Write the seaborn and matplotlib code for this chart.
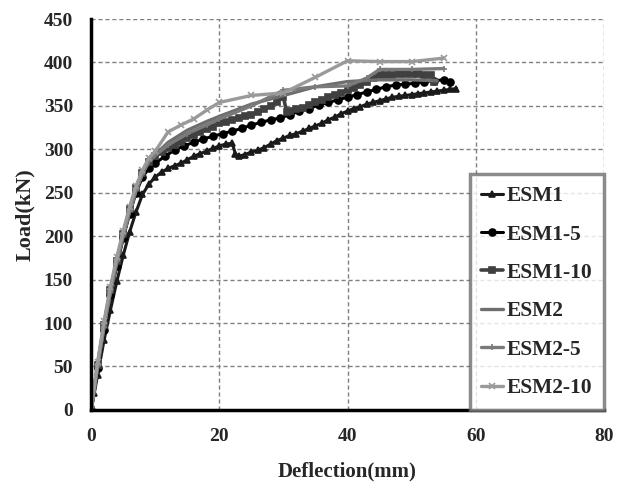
import numpy as np
import pandas as pd
import seaborn as sns
import matplotlib.pyplot as plt

# ----------------------------------------
# Data
labels = ['ESM1', 'ESM1-5', 'ESM1-10', 'ESM2', 'ESM2-5', 'ESM2-10']

esm1_x = [0, 0.5, 1, 2, 3, 4, 5, 6, 7, 8, 9, 10, 11, 12, 13, 14, 15, 16, 17, 18, 19, 20, 21, 22,
          22.5, 23, 24, 25, 26, 27, 28, 29, 30, 31, 32, 33, 34, 35, 36, 37, 38, 39, 40, 41, 42, 43,
          44, 45, 46, 47, 48, 49, 50, 51, 52, 53, 54, 55, 56, 57]
esm1_y = [0, 20, 40, 80, 115, 148, 178, 205, 228, 248, 260, 268, 274, 278, 281, 284, 288, 292, 295,
          298, 301, 304, 306, 307, 295, 292, 294, 297, 299, 302, 306, 310, 313, 316, 318, 321, 324,
          327, 330, 334, 337, 341, 344, 347, 349, 352, 354, 356, 358, 360, 361, 362, 363, 364, 365,
          366, 367, 368, 369, 370]

esm15_x = [0, 1, 2, 3, 4, 5, 6, 7, 8, 9, 10, 11.5, 13, 14.5, 16, 17.5, 19, 20.5, 22, 23.5, 25,
           26.5, 28, 29.5, 31, 32.5, 34, 35.5, 37, 38.5, 40, 41.5, 43, 44.5, 46, 47.5, 49, 50.5,
           52, 53.5, 55, 56]
esm15_y = [0, 48, 92, 132, 166, 198, 226, 250, 268, 278, 284, 292, 299, 304, 308, 312, 315, 318,
           321, 324, 328, 331, 334, 336, 340, 344, 347, 351, 354, 357, 360, 363, 366, 369, 372,
           374, 375, 376, 378, 379, 380, 378]

esm110_x = [0, 1, 2, 3, 4, 5, 6, 7, 8, 9, 10, 11, 12, 13, 14, 15, 16, 17, 18, 19, 20, 21, 22, 23,
            24, 25, 26, 27, 28, 29, 30, 30.5, 31, 32, 33, 34, 35, 36, 37, 38, 39, 40, 41, 42, 43,
            44, 45, 46, 47, 48, 49, 50, 51, 52, 53, 53.5]
esm110_y = [0, 52, 98, 138, 172, 203, 231, 255, 273, 285, 292, 297, 301, 305, 309, 313, 317, 320,
            323, 326, 330, 332, 334, 336, 338, 340, 343, 346, 350, 355, 360, 343, 344, 346, 348,
            351, 354, 357, 360, 362, 365, 368, 371, 374, 378, 382, 385, 386, 386, 387, 387, 387,
            387, 386, 386, 378]

esm2_x = [0, 1, 2, 3, 4, 5, 6, 7, 8, 9, 10, 12, 15, 18, 20, 25, 30, 35, 40, 45, 50, 54]
esm2_y = [0, 50, 95, 135, 170, 200, 228, 252, 272, 286, 294, 308, 322, 332, 338, 352, 362, 372,
          378, 380, 380, 379]

esm25_x = [0, 1, 2, 3, 4, 5, 6, 7, 8, 9, 10, 12, 15, 18, 20, 25, 30, 35, 40, 43, 45, 50, 55]
esm25_y = [0, 50, 96, 136, 171, 201, 229, 253, 272, 286, 293, 305, 318, 328, 335, 350, 368, 372,
           373, 382, 392, 392, 393]

esm210_x = [0, 1, 2, 3, 4, 5, 6, 7, 8, 9, 10, 12, 14, 16, 18, 20, 25, 30, 35, 40, 45, 50, 55]
esm210_y = [0, 55, 102, 142, 176, 206, 234, 258, 276, 290, 298, 320, 328, 335, 345, 354, 362,
            365, 383, 402, 401, 401, 405]

x_ticks = [0, 20, 40, 60, 80]
y_ticks = [0, 50, 100, 150, 200, 250, 300, 350, 400, 450]
# ----------------------------------------

series = [
    (esm1_x, esm1_y, '#1a1a1a', '^', 4, 2.2),
    (esm15_x, esm15_y, '#000000', 'o', 5, 2.2),
    (esm110_x, esm110_y, '#404040', 's', 4, 2.6),
    (esm2_x, esm2_y, '#6e6e6e', None, 0, 2.4),
    (esm25_x, esm25_y, '#7a7a7a', '+', 5, 2.4),
    (esm210_x, esm210_y, '#9a9a9a', 'x', 5, 2.4),
]

sns.set_style('white')
plt.rcParams['font.family'] = ['Liberation Serif', 'DejaVu Serif']
plt.rcParams['font.weight'] = 'bold'

fig = plt.figure(figsize=(6.29, 4.88), dpi=100)
ax = fig.add_axes([0.145, 0.16, 0.815, 0.801])

for label, (xs, ys, color, marker, msize, lw) in zip(labels, series):
    df = pd.DataFrame({'x': xs, 'y': ys})
    sns.lineplot(data=df, x='x', y='y', ax=ax, color=color, marker=marker,
                 markersize=msize, markeredgecolor=color, markeredgewidth=1.2,
                 linewidth=lw, label=label, sort=False, estimator=None)

ax.set_xlim(0, 80)
ax.set_ylim(0, 450)
ax.set_xticks(x_ticks)
ax.set_yticks(y_ticks)
ax.grid(True, color='#808080', linestyle=(0, (3, 2)), linewidth=1)
ax.set_axisbelow(True)

for side in ['top', 'right']:
    ax.spines[side].set_visible(False)
for side in ['left', 'bottom']:
    ax.spines[side].set_color('black')
    ax.spines[side].set_linewidth(2.5)

ax.tick_params(axis='both', direction='in', length=5, width=2, labelsize=14)
ax.tick_params(axis='x', pad=13)
ax.tick_params(axis='y', pad=13)
for t in ax.get_xticklabels() + ax.get_yticklabels():
    t.set_fontweight('bold')

ax.set_xlabel('Deflection(mm)', fontsize=15, fontweight='bold', labelpad=12)
ax.set_ylabel('Load(kN)', fontsize=16, fontweight='bold', labelpad=6)

leg = ax.legend(loc='lower right', bbox_to_anchor=(1.0, 0.0), borderaxespad=0,
                fancybox=False, frameon=True, fontsize=15.5, labelspacing=0.85,
                handlelength=1.0, handletextpad=0.15, borderpad=0.55)
leg.get_frame().set_edgecolor('#6e6e6e')
leg.get_frame().set_linewidth(2.5)
for t in leg.get_texts():
    t.set_fontweight('bold')

fig.savefig('out.png', dpi=100)
